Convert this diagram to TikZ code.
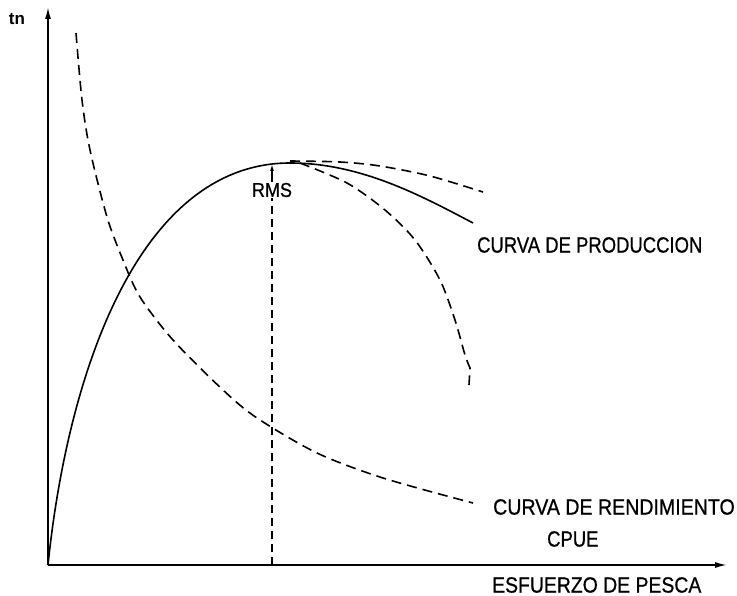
\documentclass[tikz,border=0pt]{standalone}
\usepackage{fontspec}
\setmainfont{Liberation Sans}
\newfontfamily\lblfont[FakeBold=0.8]{Liberation Sans}
\usetikzlibrary{arrows.meta}
\tikzset{
  axis/.style={line width=1.6pt,-{Latex[length=12pt,width=6pt]}},
  curve/.style={line width=1.6pt},
  dcurve/.style={line width=1.6pt,dash pattern=on 10pt off 6pt},
  rmsline/.style={line width=1.4pt,dash pattern=on 8pt off 5pt},
  lbl/.style={font=\lblfont\fontsize{22}{22}\selectfont,inner sep=0pt,anchor=west,xscale=0.84},
}
\begin{document}
\begin{tikzpicture}[x=1pt,y=-1pt]
\useasboundingbox[fill=white] (0,0) rectangle (737,596);
\coordinate (O) at (48,565);
\coordinate (ytop) at (48,7);
\coordinate (xend) at (727,565);
\coordinate (rmsbase) at (272,565);
\coordinate (peak) at (272,164);
\coordinate (top) at (290,163);
\draw[axis] (O) -- (ytop);
\draw[axis] (O) -- (xend);
% production curve
\draw[curve] (O) .. controls (68,370) and (140,163) .. (top)
  .. controls (360,163) and (420,195) .. (473,223);
% upper dashed
\draw[dcurve] plot[smooth] coordinates {(290,161) (340,162) (380,166) (430,176) (483,192)};
% descending dashed
\draw[dcurve] plot[smooth] coordinates {(300,163) (347,183) (385,210) (415,240) (440,280) (455,320) (465,355) (470,368)} -- (469,385);
% CPUE curve
\draw[dcurve] plot[smooth] coordinates {(76,33) (82,100) (90,150) (107,217) (123,260) (140,297) (173,340) (223,390) (257,418) (317,453) (383,478) (473,503)};
% RMS
\node[font=\lblfont\fontsize{20}{20}\selectfont,fill=white,inner sep=1pt,xscale=0.9] (rms) at (272,190) {RMS};
\draw[rmsline] (rmsbase) -- (rms.south);
\draw[line width=1.4pt,-{Latex[length=7pt,width=4pt]}] (rms.north) -- (peak);
% labels
\node[font=\bfseries\fontsize{17}{17}\selectfont,inner sep=0pt] (tn) at (17,19) {tn};
\node[lbl] (prod) at (477,245) {CURVA DE PRODUCCION};
\node[lbl,xscale=1.06] (rend) at (493,507) {CURVA DE RENDIMIENTO};
\node[lbl] (cpue) at (547,539) {CPUE};
\node[lbl,xscale=1.05] (esf) at (492,585) {ESFUERZO DE PESCA};
\end{tikzpicture}
\end{document}
